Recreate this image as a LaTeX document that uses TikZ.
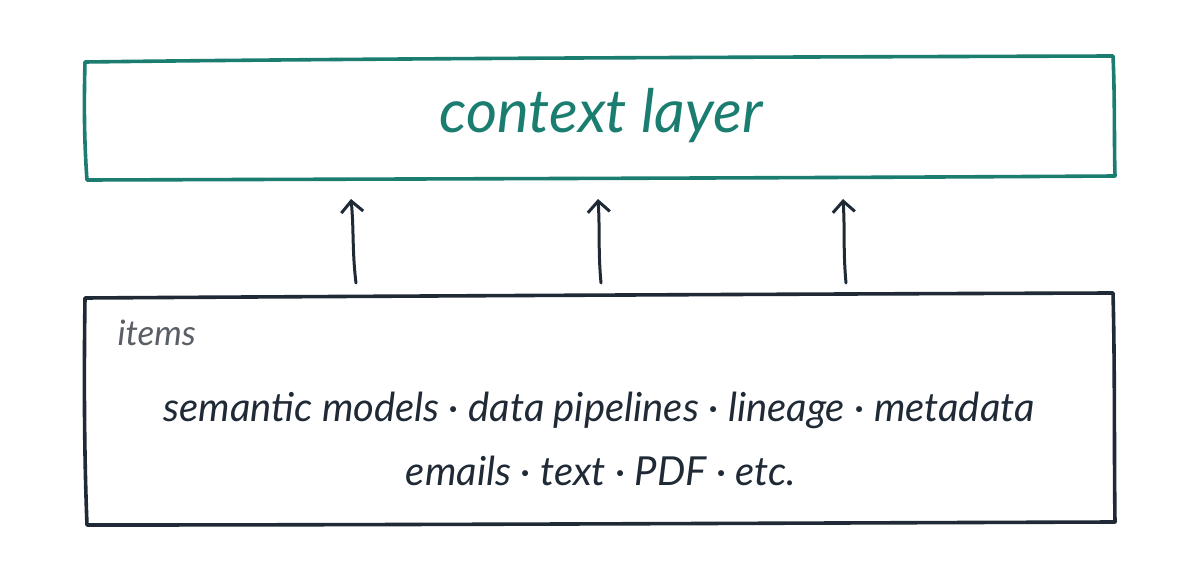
\documentclass[tikz,border=0pt]{standalone}
\usepackage{fontspec}
\setmainfont{Lato}
\usetikzlibrary{arrows.meta}
\definecolor{teal}{HTML}{1B7D70}
\definecolor{ink}{HTML}{1F2A36}
\definecolor{graytxt}{HTML}{5A5F66}
\tikzset{
  sketch/.style={line width=3.6pt, line join=round, line cap=round},
  uparrow/.style={ink, line width=3pt, line cap=round, -{Straight Barb[length=11pt,width=22pt,line width=3pt]}},
  bodytxt/.style={ink, font=\itshape\fontsize{40}{46}\selectfont},
}
\begin{document}
\begin{tikzpicture}[x=1pt,y=-1pt]
\useasboundingbox (0,0) rectangle (1200,572);
% top box
\draw[sketch, teal] (85,62) .. controls (400,58) and (800,57) .. (1113,56)
  .. controls (1115,100) and (1114,140) .. (1115,176)
  .. controls (800,178) and (400,179) .. (87,180)
  .. controls (84,140) and (84,100) .. cycle;
\node[teal, font=\itshape\fontsize{60}{66}\selectfont] (ctx) at (601,116) {context layer};
% bottom box
\draw[sketch, ink] (85,298) .. controls (400,296) and (800,294) .. (1113,293)
  .. controls (1115,370) and (1114,450) .. (1115,522)
  .. controls (800,523) and (400,525) .. (87,525)
  .. controls (84,450) and (84,370) .. cycle;
\node[graytxt, anchor=west, font=\itshape\fontsize{35}{40}\selectfont] (items) at (114,333) {items};
\node[bodytxt] (l1) at (599,410) {semantic models · data pipelines · lineage · metadata};
\node[bodytxt] (l2) at (601,471) {emails · text · PDF · etc.};
% arrows
\coordinate (a1s) at (356,283); \coordinate (a1e) at (351,199);
\coordinate (a2s) at (601,283); \coordinate (a2e) at (598,199);
\coordinate (a3s) at (846,283); \coordinate (a3e) at (843,199);
\draw[uparrow] (a1s) .. controls (352,250) and (354,230) .. (a1e);
\draw[uparrow] (a2s) .. controls (598,250) and (600,230) .. (a2e);
\draw[uparrow] (a3s) .. controls (843,250) and (845,230) .. (a3e);
\end{tikzpicture}
\end{document}
